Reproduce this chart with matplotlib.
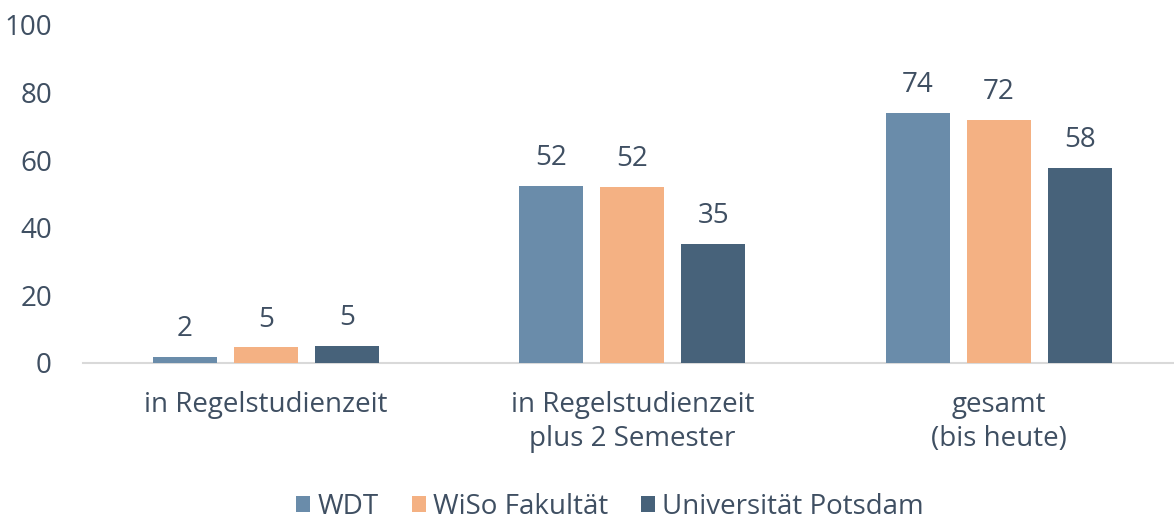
import matplotlib
matplotlib.use("Agg")
from matplotlib import pyplot as plt
import numpy as np

categories = ["in Regelstudienzeit", "in Regelstudienzeit\nplus 2 Semester", "gesamt\n(bis heute)"]
series_names = ["WDT", "WiSo Fakultät", "Universität Potsdam"]
wdt = [1.8, 52.4, 74.1]
wiso = [4.6, 52.1, 71.9]
up = [5.1, 35.2, 57.7]
yticks = [0, 20, 40, 60, 80, 100]

colors = ["#6a8caa", "#f4b183", "#47627a"]
text_color = "#3f4f62"

plt.rcParams['font.family'] = ['Open Sans', 'DejaVu Sans']
plt.rcParams['font.size'] = 20

fig = plt.figure(figsize=(11.74, 5.2), dpi=100)
ax = fig.add_axes([0.0703, 0.302, 0.9366, 0.650])

x = np.arange(len(categories))
pitch = 0.221
width = 0.175
for i, (vals, name, c) in enumerate(zip([wdt, wiso, up], series_names, colors)):
    bars = ax.bar(x + (i - 1) * pitch, vals, width, color=c, label=name, zorder=3)
    for b, v in zip(bars, vals):
        ax.annotate(f"{round(v)}", (b.get_x() + b.get_width() / 2, v),
                    xytext=(0, 10), textcoords="offset points",
                    ha="center", va="bottom", color=text_color, fontsize=20)

ax.set_xlim(-0.5, 2.5)
ax.set_ylim(0, 100)
ax.set_yticks(yticks)
ax.set_xticks(x)
ax.set_xticklabels(categories, color=text_color, linespacing=1.3)
ax.tick_params(axis="y", colors=text_color, length=0, pad=22)
ax.tick_params(axis="x", colors=text_color, length=0, pad=20)
for lbl in ax.get_yticklabels():
    lbl.set_color(text_color)
for s in ["top", "right", "left"]:
    ax.spines[s].set_visible(False)
ax.spines["bottom"].set_color("#d9d9d9")
ax.spines["bottom"].set_linewidth(1.5)

leg = fig.legend(loc="center", bbox_to_anchor=(610 / 1174, 1 - 507 / 520), ncol=3,
                 frameon=False, handlelength=0.5, handleheight=0.5, handletextpad=0.25,
                 columnspacing=1.2, fontsize=20)
for t in leg.get_texts():
    t.set_color(text_color)

fig.savefig("out.png", dpi=100)
